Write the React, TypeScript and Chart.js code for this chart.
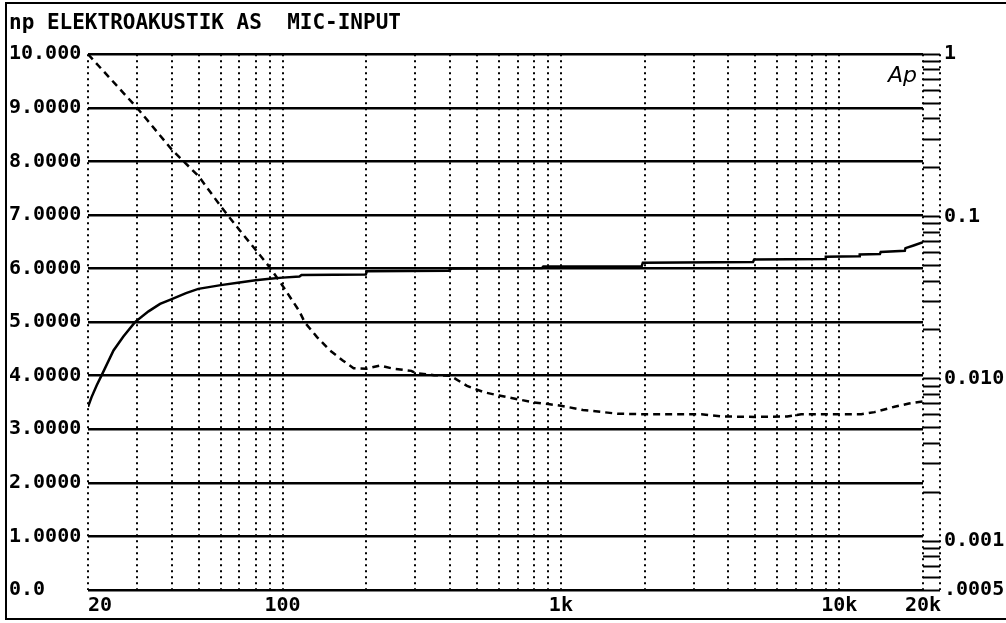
import React, { useEffect, useRef } from 'react';
import { Chart, registerables } from 'chart.js';

Chart.register(...registerables);

const FONT = '"DejaVu Sans Mono", monospace';

const titleText = 'np ELEKTROAKUSTIK AS  MIC-INPUT';

// x axis (Hz, log)
const xTickValues = [20, 30, 40, 50, 60, 70, 80, 90, 100, 200, 300, 400, 500, 600, 700, 800, 900,
  1000, 2000, 3000, 4000, 5000, 6000, 7000, 8000, 9000, 10000, 20000];
const xTickLabels: Record<number, string> = { 20: '  20', 100: '100', 1000: '1k', 10000: '10k', 20000: '20k' };

// left axis
const leftTickValues = [0, 1, 2, 3, 4, 5, 6, 7, 8, 9, 10];
const leftTickLabels = ['0.0', '1.0000', '2.0000', '3.0000', '4.0000', '5.0000', '6.0000', '7.0000', '8.0000', '9.0000', '10.000'];

// right axis (Ap, log)
const rightTickValues = [0.0005, 0.0006, 0.0007, 0.0008, 0.0009,
  0.001, 0.002, 0.003, 0.004, 0.005, 0.006, 0.007, 0.008, 0.009,
  0.01, 0.02, 0.03, 0.04, 0.05, 0.06, 0.07, 0.08, 0.09,
  0.1, 0.2, 0.3, 0.4, 0.5, 0.6, 0.7, 0.8, 0.9, 1];
const rightTickLabels = ['.0005', '', '', '', '',
  '0.001', '', '', '', '', '', '', '', '',
  '0.010', '', '', '', '', '', '', '', '',
  '0.1', '', '', '', '', '', '', '', '', '1'];

// solid trace
const solidFreq = [20, 20.6, 21.5, 22.4, 24.7, 26.8, 29.5, 33, 36.3, 40, 45, 49.8, 60, 70, 80, 90, 100, 115, 117,
  199, 201, 395, 405, 855, 865, 1950, 1970, 4900, 4950, 8900, 8950, 11800, 11850, 14000, 14100, 17200, 17300, 18500, 20000];
const solidVals = [3.42, 3.6, 3.82, 4.01, 4.47, 4.73, 5.0, 5.2, 5.34, 5.43, 5.54, 5.62, 5.69, 5.74, 5.78, 5.81, 5.83, 5.85, 5.88,
  5.89, 5.95, 5.96, 6.0, 6.01, 6.04, 6.04, 6.11, 6.12, 6.17, 6.18, 6.22, 6.23, 6.26, 6.27, 6.31, 6.33, 6.38, 6.43, 6.49];

// dashed trace
const dashedFreq = [20, 30, 40, 50, 60, 70, 80, 90, 100, 115, 120, 133, 148, 165, 180, 200, 224, 250, 290, 300, 350, 400,
  460, 530, 600, 700, 800, 900, 1000, 1200, 1600, 2000, 3200, 3800, 5000, 6500, 7300, 12000, 13400, 15800, 17800, 20000];
const dashedVals = [10.0, 9.0, 8.22, 7.72, 7.16, 6.72, 6.35, 6.02, 5.68, 5.2, 5.0, 4.72, 4.47, 4.28, 4.14, 4.13, 4.19, 4.13, 4.09, 4.05, 4.01, 4.0,
  3.81, 3.69, 3.63, 3.56, 3.5, 3.47, 3.44, 3.36, 3.29, 3.28, 3.28, 3.24, 3.23, 3.24, 3.28, 3.28, 3.32, 3.42, 3.48, 3.52];

const framePlugin = {
  id: 'frame',
  afterDraw(chart: any) {
    const ctx = chart.ctx as CanvasRenderingContext2D;
    const ca = chart.chartArea;
    ctx.save();
    ctx.strokeStyle = '#000';
    ctx.lineWidth = 2;
    ctx.beginPath();
    ctx.moveTo(1006, 3);
    ctx.lineTo(6, 3);
    ctx.lineTo(6, 619);
    ctx.lineTo(1006, 619);
    ctx.stroke();
    // outer dotted edge of the right tick strip
    ctx.setLineDash([2, 4]);
    ctx.beginPath();
    ctx.moveTo(ca.right + 17, ca.top);
    ctx.lineTo(ca.right + 17, ca.bottom);
    ctx.stroke();
    ctx.setLineDash([]);
    ctx.fillStyle = '#000';
    ctx.font = 'italic 22px "DejaVu Sans"';
    ctx.textAlign = 'right';
    ctx.textBaseline = 'alphabetic';
    ctx.fillText('Ap', ca.right - 6, ca.top + 28);
    ctx.restore();
  },
};

export default function App() {
  const ref = useRef<HTMLCanvasElement | null>(null);

  useEffect(() => {
    if (!ref.current) return;
    const tickFont = { family: FONT, size: 20, weight: 'bold' as const };
    const chart = new Chart(ref.current, {
      type: 'line',
      data: {
        datasets: [
          {
            data: solidFreq.map((f, i) => ({ x: f, y: solidVals[i] })),
            borderColor: '#000',
            borderWidth: 2.5,
            pointRadius: 0,
            tension: 0,
            yAxisID: 'y',
          },
          {
            data: dashedFreq.map((f, i) => ({ x: f, y: dashedVals[i] })),
            borderColor: '#000',
            borderWidth: 2.5,
            borderDash: [7, 5],
            pointRadius: 0,
            tension: 0,
            yAxisID: 'y',
          },
        ],
      },
      options: {
        responsive: false,
        animation: false,
        layout: { padding: { left: 9, right: 0, top: 3, bottom: 3 } },
        plugins: {
          legend: { display: false },
          tooltip: { enabled: false },
          title: {
            display: true,
            text: titleText,
            align: 'start',
            color: '#000',
            font: { family: FONT, size: 21, weight: 'bold' },
            padding: { top: 8, bottom: 18 },
          },
        },
        scales: {
          x: {
            type: 'logarithmic',
            min: 20,
            max: 20000,
            afterBuildTicks: (s: any) => { s.ticks = xTickValues.map((v) => ({ value: v })); },
            afterFit: (s: any) => { s.height = 30; },
            ticks: {
              autoSkip: false,
              maxRotation: 0,
              minRotation: 0,
              padding: 4,
              color: '#000',
              font: tickFont,
              callback: (v: any) => xTickLabels[Number(v)] ?? '',
            },
            grid: { color: '#000', lineWidth: 2, drawTicks: false },
            border: { display: false, dash: [2, 4] },
          },
          y: {
            type: 'linear',
            position: 'left',
            min: 0,
            max: 10,
            afterBuildTicks: (s: any) => { s.ticks = leftTickValues.map((v) => ({ value: v })); },
            afterFit: (s: any) => { s.width = 79; },
            ticks: {
              autoSkip: false,
              crossAlign: 'far',
              padding: 4,
              color: '#000',
              font: tickFont,
              callback: (_v: any, i: number) => leftTickLabels[i],
            },
            grid: { color: '#000', lineWidth: 2.5, drawTicks: false },
            border: { display: false },
          },
          y2: {
            type: 'logarithmic',
            position: 'right',
            min: 0.0005,
            max: 1,
            afterBuildTicks: (s: any) => { s.ticks = rightTickValues.map((v) => ({ value: v })); },
            afterFit: (s: any) => { s.width = 83; },
            ticks: {
              autoSkip: false,
              padding: 4,
              color: '#000',
              font: tickFont,
              callback: (_v: any, i: number) => rightTickLabels[i],
            },
            grid: { drawOnChartArea: false, drawTicks: true, tickLength: 17, tickColor: '#000', tickWidth: 2 },
            border: { display: false },
          },
        },
      },
      plugins: [framePlugin],
    });
    return () => chart.destroy();
  }, []);

  return (
    <div style={{ position: 'fixed', left: 0, top: 0, width: 1006, height: 623, background: '#fff' }}>
      <canvas ref={ref} width={1006} height={623} style={{ width: 1006, height: 623, display: 'block' }} />
    </div>
  );
}
